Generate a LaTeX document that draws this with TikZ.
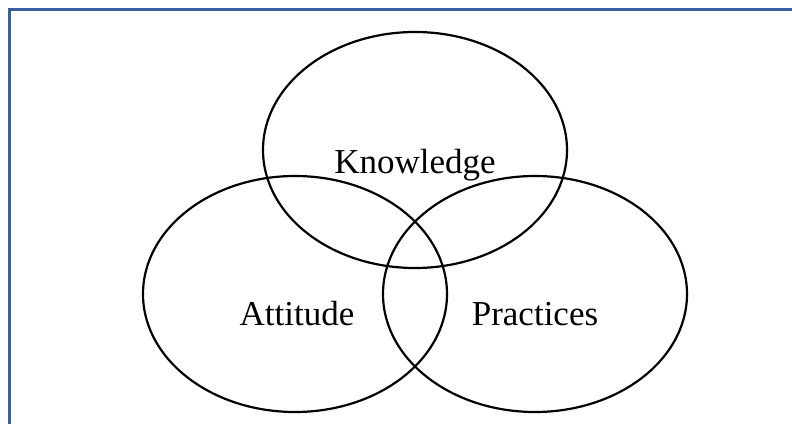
\documentclass[tikz,border=0pt]{standalone}
\usepackage{fontspec}
\setmainfont{Liberation Serif}
\usetikzlibrary{shapes.geometric}
\definecolor{frameblue}{RGB}{59,93,158}

\begin{document}
\begin{tikzpicture}[x=1pt,y=-1pt,
    venn/.style={draw,ellipse,line width=2.2pt,minimum width=304pt,minimum height=236pt,inner sep=0pt},
    lbl/.style={font=\fontsize{35}{40}\selectfont,anchor=base,inner sep=0pt}]
    % Canvas
    \useasboundingbox (0,0) rectangle (792,423);
    % Frame
    \draw[frameblue,line width=2.5pt] (9.7,430) -- (9.7,9.7) -- (800,9.7);
    % Sets
    \node[venn] (know) at (415,150) {};
    \node[venn] (att)  at (295,294) {};
    \node[venn] (prac) at (535,294) {};
    % Labels
    \node[lbl] (knowtxt) at (415,173) {Knowledge};
    \node[lbl] (atttxt)  at (297,325) {Attitude};
    \node[lbl] (practxt) at (535,325) {Practices};
\end{tikzpicture}
\end{document}
